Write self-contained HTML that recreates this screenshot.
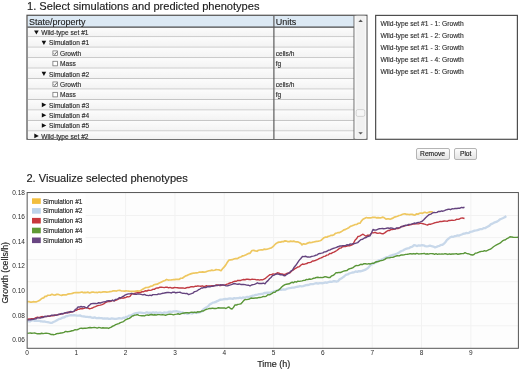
<!DOCTYPE html>
<html><head><meta charset="utf-8">
<style>
html,body{margin:0;padding:0;background:#fff;}
body{width:520px;height:370px;position:relative;overflow:hidden;filter:blur(0.3px);font-family:"Liberation Sans",sans-serif;color:#222;}
.abs{position:absolute;}
.h1{position:absolute;font-size:11.1px;line-height:11px;white-space:nowrap;color:#1c1c1c;-webkit-text-stroke:0.15px #1c1c1c;}
.t{position:absolute;font-size:6.6px;line-height:6.6px;white-space:nowrap;color:#2a2a2a;-webkit-text-stroke:0.14px #2a2a2a;}
.t2{position:absolute;font-size:6.72px;line-height:6.8px;white-space:nowrap;color:#2a2a2a;-webkit-text-stroke:0.12px #2a2a2a;}
.row{position:absolute;left:28px;width:326px;height:10.4px;background:linear-gradient(#fbfbfb,#f3f3f3);border-bottom:1px solid #c6c6c6;box-sizing:border-box;}
.btn{position:absolute;top:147.6px;height:12.0px;-webkit-text-stroke:0.15px #1e1e1e;box-sizing:border-box;border:1px solid #b4b4b4;border-radius:2px;background:linear-gradient(#fdfdfd,#e4e4e4);font-size:6.7px;line-height:10.2px;text-align:center;color:#1e1e1e;}
</style></head><body>
<div class="h1" style="left:27px;top:0.5px">1. Select simulations and predicted phenotypes</div>

<svg class="abs" style="left:0;top:0" width="520" height="150">
<defs><linearGradient id="rowg" x1="0" y1="0" x2="0" y2="1"><stop offset="0" stop-color="#fcfcfc"/><stop offset="1" stop-color="#f2f2f2"/></linearGradient></defs>
<rect x="27" y="15.27" width="339.9" height="123.93" fill="#fafafa" stroke="#4e4e4e" stroke-width="1.2"/>
<rect x="28" y="27.60" width="326" height="9.62" fill="url(#rowg)"/>
<line x1="28" x2="354" y1="36.72" y2="36.72" stroke="#c4c4c4" stroke-width="1"/>
<path d="M34.10,30.40 l4.6,0 l-2.3,4.2 Z" fill="#111"/>
<rect x="28" y="37.22" width="326" height="10.47" fill="url(#rowg)"/>
<line x1="28" x2="354" y1="47.19" y2="47.19" stroke="#c4c4c4" stroke-width="1"/>
<path d="M41.60,40.75 l4.6,0 l-2.3,4.2 Z" fill="#111"/>
<rect x="28" y="47.69" width="326" height="10.47" fill="url(#rowg)"/>
<line x1="28" x2="354" y1="57.66" y2="57.66" stroke="#c4c4c4" stroke-width="1"/>
<rect x="52.90" y="50.90" width="4.6" height="4.6" fill="#fff" stroke="#666" stroke-width="0.7"/><path d="M53.70,53.30 l1.1,1.2 l2.2,-2.9" fill="none" stroke="#333" stroke-width="0.7"/>
<rect x="28" y="58.16" width="326" height="10.47" fill="url(#rowg)"/>
<line x1="28" x2="354" y1="68.13" y2="68.13" stroke="#c4c4c4" stroke-width="1"/>
<rect x="52.90" y="61.25" width="4.6" height="4.6" fill="#fff" stroke="#666" stroke-width="0.7"/>
<rect x="28" y="68.63" width="326" height="10.47" fill="url(#rowg)"/>
<line x1="28" x2="354" y1="78.60" y2="78.60" stroke="#c4c4c4" stroke-width="1"/>
<path d="M41.60,71.80 l4.6,0 l-2.3,4.2 Z" fill="#111"/>
<rect x="28" y="79.10" width="326" height="10.47" fill="url(#rowg)"/>
<line x1="28" x2="354" y1="89.07" y2="89.07" stroke="#c4c4c4" stroke-width="1"/>
<rect x="52.90" y="81.95" width="4.6" height="4.6" fill="#fff" stroke="#666" stroke-width="0.7"/><path d="M53.70,84.35 l1.1,1.2 l2.2,-2.9" fill="none" stroke="#333" stroke-width="0.7"/>
<rect x="28" y="89.57" width="326" height="10.47" fill="url(#rowg)"/>
<line x1="28" x2="354" y1="99.54" y2="99.54" stroke="#c4c4c4" stroke-width="1"/>
<rect x="52.90" y="92.30" width="4.6" height="4.6" fill="#fff" stroke="#666" stroke-width="0.7"/>
<rect x="28" y="100.04" width="326" height="10.47" fill="url(#rowg)"/>
<line x1="28" x2="354" y1="110.01" y2="110.01" stroke="#c4c4c4" stroke-width="1"/>
<path d="M41.80,102.55 l4.5,2.3 l-4.5,2.3 Z" fill="#111"/>
<rect x="28" y="110.51" width="326" height="10.47" fill="url(#rowg)"/>
<line x1="28" x2="354" y1="120.48" y2="120.48" stroke="#c4c4c4" stroke-width="1"/>
<path d="M41.80,112.90 l4.5,2.3 l-4.5,2.3 Z" fill="#111"/>
<rect x="28" y="120.98" width="326" height="10.47" fill="url(#rowg)"/>
<line x1="28" x2="354" y1="130.95" y2="130.95" stroke="#c4c4c4" stroke-width="1"/>
<path d="M41.80,123.25 l4.5,2.3 l-4.5,2.3 Z" fill="#111"/>
<rect x="28" y="131.45" width="326" height="7.55" fill="url(#rowg)"/>
<path d="M34.30,133.60 l4.5,2.3 l-4.5,2.3 Z" fill="#111"/>

<rect x="28" y="16" width="326" height="11.1" fill="#dce9f4"/>
<line x1="27.5" x2="354" y1="27.2" y2="27.2" stroke="#4a4a4a" stroke-width="1.2"/>
<line x1="273.9" x2="273.9" y1="16" y2="139" stroke="#555" stroke-width="1.15"/>
<line x1="354.1" x2="354.1" y1="16" y2="139" stroke="#5e5e5e" stroke-width="1.1"/>
<rect x="354.6" y="15.8" width="11.8" height="122.9" fill="#f8f8f8"/><rect x="356.3" y="15.8" width="8.5" height="122.9" fill="#f1f1f1"/>
<path d="M358.4,21.9 L360.6,19.5 L362.8,21.9 Z" fill="#555"/>
<rect x="356.2" y="109.6" width="8.6" height="6.8" rx="1.6" fill="#f6f6f6" stroke="#c4c4c4" stroke-width="0.7"/>
<path d="M358.4,132.2 L362.8,132.2 L360.6,134.6 Z" fill="#555"/>
<rect x="375.65" y="15.4" width="141.75" height="123.9" fill="#fff" stroke="#4e4e4e" stroke-width="1.2"/>
</svg>
<div class="t" style="left:41.20px;top:30.11px">Wild-type set #1</div>
<div class="t" style="left:49.10px;top:40.46px">Simulation #1</div>
<div class="t" style="left:60.00px;top:50.81px">Growth</div>
<div class="t" style="left:275.7px;top:50.81px">cells/h</div>
<div class="t" style="left:60.00px;top:61.16px">Mass</div>
<div class="t" style="left:275.7px;top:61.16px">fg</div>
<div class="t" style="left:49.10px;top:71.51px">Simulation #2</div>
<div class="t" style="left:60.00px;top:81.86px">Growth</div>
<div class="t" style="left:275.7px;top:81.86px">cells/h</div>
<div class="t" style="left:60.00px;top:92.21px">Mass</div>
<div class="t" style="left:275.7px;top:92.21px">fg</div>
<div class="t" style="left:49.10px;top:102.56px">Simulation #3</div>
<div class="t" style="left:49.10px;top:112.91px">Simulation #4</div>
<div class="t" style="left:49.10px;top:123.26px">Simulation #5</div>
<div class="t" style="left:41.20px;top:133.61px">Wild-type set #2</div>

<div class="abs" style="left:29px;top:17.5px;font-size:9px;line-height:9px;color:#222;white-space:nowrap;-webkit-text-stroke:0.12px #222">State/property</div>
<div class="abs" style="left:275.7px;top:17.5px;font-size:9px;line-height:9px;color:#222;white-space:nowrap;-webkit-text-stroke:0.12px #222">Units</div>

<div class="t2" style="left:380.4px;top:20.64px">Wild-type set #1 - 1: Growth</div>
<div class="t2" style="left:380.4px;top:32.84px">Wild-type set #1 - 2: Growth</div>
<div class="t2" style="left:380.4px;top:45.04px">Wild-type set #1 - 3: Growth</div>
<div class="t2" style="left:380.4px;top:57.24px">Wild-type set #1 - 4: Growth</div>
<div class="t2" style="left:380.4px;top:69.44px">Wild-type set #1 - 5: Growth</div>

<div class="btn" style="left:415.5px;width:34px">Remove</div>
<div class="btn" style="left:454.2px;width:23px">Plot</div>

<div class="h1" style="left:26.4px;top:172.69px">2. Visualize selected phenotypes</div>

<svg class="abs" style="left:0;top:0" width="520" height="370" font-family="Liberation Sans" font-size="6.5" fill="#2a2a2a">
<rect x="27.15" y="192.55" width="491.25" height="155.75" fill="#fdfdfd"/>
<line x1="27.15" y1="215.54" x2="518.4" y2="215.54" stroke="#f2f2f2" stroke-width="1"/>
<line x1="27.15" y1="237.58" x2="518.4" y2="237.58" stroke="#f2f2f2" stroke-width="1"/>
<line x1="27.15" y1="259.62" x2="518.4" y2="259.62" stroke="#f2f2f2" stroke-width="1"/>
<line x1="27.15" y1="281.66" x2="518.4" y2="281.66" stroke="#f2f2f2" stroke-width="1"/>
<line x1="27.15" y1="303.70" x2="518.4" y2="303.70" stroke="#f2f2f2" stroke-width="1"/>
<line x1="27.15" y1="325.74" x2="518.4" y2="325.74" stroke="#f2f2f2" stroke-width="1"/>
<line x1="76.32" y1="192.55" x2="76.32" y2="348.3" stroke="#f2f2f2" stroke-width="1"/>
<line x1="125.64" y1="192.55" x2="125.64" y2="348.3" stroke="#f2f2f2" stroke-width="1"/>
<line x1="174.96" y1="192.55" x2="174.96" y2="348.3" stroke="#f2f2f2" stroke-width="1"/>
<line x1="224.28" y1="192.55" x2="224.28" y2="348.3" stroke="#f2f2f2" stroke-width="1"/>
<line x1="273.60" y1="192.55" x2="273.60" y2="348.3" stroke="#f2f2f2" stroke-width="1"/>
<line x1="322.92" y1="192.55" x2="322.92" y2="348.3" stroke="#f2f2f2" stroke-width="1"/>
<line x1="372.24" y1="192.55" x2="372.24" y2="348.3" stroke="#f2f2f2" stroke-width="1"/>
<line x1="421.56" y1="192.55" x2="421.56" y2="348.3" stroke="#f2f2f2" stroke-width="1"/>
<line x1="470.88" y1="192.55" x2="470.88" y2="348.3" stroke="#f2f2f2" stroke-width="1"/>

<rect x="28" y="193" width="57.5" height="56" fill="#fff"/>
<path d="M27.50,301.80 L28.92,301.50 L30.33,302.18 L31.75,302.14 L33.17,301.71 L34.58,301.96 L36.00,301.95 L37.67,301.30 L39.33,300.59 L41.00,299.13 L42.33,298.08 L43.67,297.80 L45.00,296.44 L46.40,296.34 L47.80,295.25 L49.20,295.25 L50.60,295.10 L52.00,294.26 L53.60,295.00 L55.20,295.06 L56.80,294.38 L58.40,294.47 L60.00,295.04 L61.50,295.40 L63.00,294.89 L64.50,294.74 L66.00,294.93 L67.60,294.18 L69.20,293.95 L70.80,293.74 L72.40,293.40 L74.00,292.76 L75.60,292.64 L77.20,292.51 L78.80,292.60 L80.40,292.33 L82.00,291.97 L83.43,292.70 L84.86,292.45 L86.29,292.53 L87.71,292.12 L89.14,292.84 L90.57,292.72 L92.00,292.06 L93.43,292.19 L94.86,292.49 L96.29,292.42 L97.71,292.56 L99.14,292.04 L100.57,292.35 L102.00,292.15 L103.60,291.74 L105.20,291.92 L106.80,292.10 L108.40,291.99 L110.00,291.60 L111.60,291.48 L113.20,290.78 L114.80,290.77 L116.40,291.07 L118.00,290.52 L119.60,290.39 L121.20,290.80 L122.80,291.02 L124.40,291.08 L126.00,290.89 L127.43,291.02 L128.86,291.15 L130.29,291.46 L131.71,291.30 L133.14,291.26 L134.57,291.42 L136.00,291.08 L137.50,290.84 L139.00,291.18 L140.67,290.60 L142.33,289.42 L144.00,288.40 L145.43,287.70 L146.86,287.50 L148.29,287.43 L149.71,286.74 L151.14,286.04 L152.57,285.82 L154.00,284.76 L155.60,284.41 L157.20,284.21 L158.80,283.27 L160.40,282.56 L162.00,281.79 L163.50,281.04 L165.00,280.41 L166.57,279.46 L168.14,280.06 L169.71,279.99 L171.29,279.95 L172.86,279.72 L174.43,279.68 L176.00,279.32 L177.50,279.46 L179.00,279.43 L180.67,278.27 L182.33,278.17 L184.00,277.06 L185.67,275.90 L187.33,275.34 L189.00,274.49 L190.67,273.87 L192.33,273.36 L194.00,273.03 L195.43,272.97 L196.86,272.82 L198.29,272.53 L199.71,272.00 L201.14,272.04 L202.57,271.85 L204.00,272.08 L205.67,271.82 L207.33,271.27 L209.00,270.77 L210.40,270.68 L211.80,270.08 L213.20,270.51 L214.60,270.26 L216.00,269.62 L217.67,269.73 L219.33,269.90 L221.00,270.73 L222.50,268.77 L224.00,267.15 L225.50,265.36 L227.00,262.86 L229.00,260.11 L230.60,259.79 L232.20,259.72 L233.80,259.00 L235.40,258.70 L237.00,258.69 L238.43,257.89 L239.86,257.20 L241.29,256.76 L242.71,255.79 L244.14,255.54 L245.57,255.00 L247.00,254.22 L248.50,253.40 L250.00,253.36 L252.00,250.51 L253.67,250.40 L255.33,250.93 L257.00,251.29 L258.40,250.27 L259.80,249.97 L261.20,249.78 L262.60,250.00 L264.00,249.19 L265.50,249.43 L267.00,249.16 L268.50,248.79 L270.00,248.25 L271.33,247.93 L272.67,246.77 L274.00,245.51 L275.75,243.75 L277.50,242.63 L279.00,242.16 L280.50,242.07 L282.00,241.59 L283.50,241.62 L285.00,240.85 L286.43,241.07 L287.86,241.67 L289.29,241.59 L290.71,241.08 L292.14,241.57 L293.57,241.08 L295.00,241.65 L296.50,241.84 L298.00,241.92 L299.33,242.61 L300.67,243.22 L302.00,244.84 L303.43,243.73 L304.86,244.07 L306.29,243.84 L307.71,243.13 L309.14,242.42 L310.57,242.69 L312.00,242.43 L313.60,241.98 L315.20,241.61 L316.80,241.29 L318.40,241.06 L320.00,240.74 L321.33,240.16 L322.67,238.94 L324.00,237.72 L325.42,237.14 L326.83,237.15 L328.25,236.32 L329.67,236.00 L331.08,235.34 L332.50,235.33 L333.93,234.79 L335.36,233.42 L336.79,233.02 L338.21,232.56 L339.64,232.58 L341.07,231.83 L342.50,230.86 L344.08,229.83 L345.67,229.32 L347.25,228.55 L348.83,227.72 L350.42,226.28 L352.00,225.84 L353.60,225.17 L355.20,224.49 L356.80,224.44 L358.40,223.26 L360.00,223.20 L361.50,220.88 L363.00,219.20 L365.00,218.17 L366.43,217.50 L367.86,217.95 L369.29,217.76 L370.71,217.94 L372.14,217.47 L373.57,217.40 L375.00,217.31 L376.50,217.83 L378.00,217.59 L379.50,217.91 L381.00,217.85 L382.50,217.17 L384.00,217.55 L386.00,219.14 L387.33,218.92 L388.67,218.78 L390.00,219.33 L391.50,218.66 L393.00,218.10 L394.50,217.06 L396.00,216.70 L397.50,216.25 L399.00,215.49 L400.50,215.26 L402.00,214.55 L403.50,214.02 L405.00,213.79 L406.43,214.46 L407.86,214.27 L409.29,214.70 L410.71,214.39 L412.14,214.34 L413.57,214.90 L415.00,215.04 L416.50,213.96 L418.00,214.20 L419.50,213.33 L421.00,213.00 L422.50,213.35 L424.00,212.44 L425.50,212.47 L427.00,212.99 L428.50,212.33 L430.00,211.90 L431.50,211.83 L433.00,212.00" fill="none" stroke="#eec760" stroke-width="1.7" stroke-linejoin="round"/>
<path d="M27.50,321.00 L28.92,321.33 L30.33,321.24 L31.75,320.35 L33.17,320.29 L34.58,320.89 L36.00,320.71 L37.43,320.87 L38.86,320.76 L40.29,321.24 L41.71,321.45 L43.14,321.64 L44.57,321.48 L46.00,321.94 L47.50,322.03 L49.00,322.45 L50.50,322.82 L52.00,322.90 L53.33,322.04 L54.67,321.45 L56.00,320.79 L57.33,319.92 L58.67,319.24 L60.00,318.97 L61.50,318.14 L63.00,317.49 L64.50,317.25 L66.00,316.22 L67.67,316.02 L69.33,315.50 L71.00,315.07 L72.50,315.27 L74.00,315.02 L75.50,315.28 L77.00,315.65 L78.50,315.57 L80.00,315.35 L81.50,316.20 L83.00,316.33 L84.50,316.49 L86.00,316.87 L87.43,316.92 L88.86,317.13 L90.29,316.93 L91.71,317.68 L93.14,317.84 L94.57,317.31 L96.00,318.03 L97.43,318.08 L98.86,317.94 L100.29,318.08 L101.71,318.13 L103.14,318.61 L104.57,318.32 L106.00,318.70 L107.43,318.30 L108.86,318.80 L110.29,318.85 L111.71,318.48 L113.14,318.60 L114.57,318.95 L116.00,318.80 L117.50,318.54 L119.00,318.25 L120.50,318.29 L122.00,318.58 L123.33,317.63 L124.67,317.83 L126.00,316.79 L127.43,316.80 L128.86,315.69 L130.29,315.70 L131.71,314.90 L133.14,314.15 L134.57,313.59 L136.00,313.14 L137.56,313.02 L139.11,312.72 L140.67,312.57 L142.22,312.79 L143.78,313.11 L145.33,312.78 L146.89,312.23 L148.44,312.84 L150.00,312.70 L151.56,312.93 L153.12,312.35 L154.69,312.91 L156.25,312.35 L157.81,312.95 L159.38,312.67 L160.94,312.69 L162.50,313.34 L164.06,312.43 L165.62,312.58 L167.19,312.66 L168.75,311.90 L170.31,311.65 L171.88,312.03 L173.44,311.40 L175.00,311.45 L176.56,311.14 L178.12,311.75 L179.69,311.89 L181.25,312.66 L182.81,312.44 L184.38,313.53 L185.94,313.01 L187.50,313.96 L189.06,313.16 L190.62,313.22 L192.19,313.56 L193.75,312.82 L195.31,312.68 L196.88,312.98 L198.44,312.55 L200.00,312.09 L201.43,311.80 L202.86,309.90 L204.29,308.65 L205.71,307.79 L207.14,306.89 L208.57,305.86 L210.00,304.15 L211.43,303.64 L212.86,302.65 L214.29,302.31 L215.71,301.88 L217.14,301.14 L218.57,300.58 L220.00,299.73 L221.43,299.72 L222.86,299.47 L224.29,299.15 L225.71,298.82 L227.14,299.11 L228.57,298.69 L230.00,298.39 L231.43,298.60 L232.86,298.87 L234.29,298.09 L235.71,298.40 L237.14,298.12 L238.57,298.12 L240.00,297.68 L241.43,298.27 L242.86,297.50 L244.29,297.67 L245.71,297.36 L247.14,296.85 L248.57,297.20 L250.00,296.68 L251.43,296.14 L252.86,295.65 L254.29,295.30 L255.71,294.78 L257.14,294.80 L258.57,294.22 L260.00,294.19 L261.43,293.96 L262.86,293.84 L264.29,292.97 L265.71,292.99 L267.14,292.63 L268.57,292.76 L270.00,292.61 L271.43,292.41 L272.86,291.97 L274.29,291.21 L275.71,291.00 L277.14,290.74 L278.57,289.91 L280.00,289.58 L281.67,289.75 L283.33,289.32 L285.00,289.70 L286.50,288.94 L288.00,288.49 L289.50,288.24 L291.00,287.96 L292.50,287.62 L294.00,287.57 L295.50,287.19 L297.00,286.73 L298.50,286.70 L300.00,285.99 L301.50,286.37 L303.00,286.17 L304.50,285.71 L306.00,285.19 L307.50,285.01 L309.00,284.82 L310.50,284.10 L312.00,284.18 L313.50,284.02 L315.00,283.46 L316.50,283.21 L318.00,283.67 L319.50,283.10 L321.00,283.07 L322.50,283.25 L324.00,282.80 L325.50,282.34 L327.00,282.79 L328.50,282.06 L330.00,281.57 L331.60,281.97 L333.20,281.24 L334.80,281.23 L336.40,281.51 L338.00,281.16 L339.60,279.36 L341.20,278.56 L342.80,277.32 L344.40,276.19 L346.00,274.74 L347.60,274.48 L349.20,273.42 L350.80,273.01 L352.40,272.49 L354.00,272.39 L355.60,271.42 L357.20,271.83 L358.80,271.12 L360.40,271.26 L362.00,270.90 L363.50,270.32 L365.00,269.93 L366.50,268.96 L368.00,268.06 L369.33,266.59 L370.67,265.09 L372.00,264.32 L373.60,263.33 L375.20,262.81 L376.80,261.77 L378.40,260.37 L380.00,260.14 L381.43,259.68 L382.86,259.06 L384.29,258.28 L385.71,257.59 L387.14,257.10 L388.57,256.84 L390.00,255.79 L391.43,255.45 L392.86,254.84 L394.29,254.69 L395.71,253.99 L397.14,253.53 L398.57,252.87 L400.00,251.82 L401.50,251.01 L403.00,250.49 L404.50,249.53 L406.00,248.93 L407.60,248.48 L409.20,248.02 L410.80,247.04 L412.40,246.57 L414.00,245.24 L415.60,245.47 L417.20,246.05 L418.80,245.28 L420.40,245.53 L422.00,245.21 L423.60,245.31 L425.20,246.12 L426.80,246.28 L428.40,246.05 L430.00,245.67 L431.67,246.23 L433.33,246.59 L435.00,247.40 L436.50,246.91 L438.00,246.19 L439.50,245.77 L441.00,244.90 L442.50,244.79 L444.00,243.65 L445.50,241.98 L447.00,239.89 L448.50,238.76 L450.00,237.44 L451.50,236.68 L453.00,236.91 L454.50,236.16 L456.00,236.03 L457.50,235.41 L458.93,235.59 L460.36,235.04 L461.79,234.49 L463.21,233.75 L464.64,233.66 L466.07,232.93 L467.50,233.09 L468.93,232.88 L470.36,231.78 L471.79,231.62 L473.21,231.13 L474.64,230.59 L476.07,230.40 L477.50,230.14 L479.00,229.58 L480.50,229.03 L482.00,229.12 L483.50,228.20 L485.00,228.22 L486.50,227.24 L488.00,226.44 L489.50,225.62 L491.00,224.15 L492.50,223.61 L494.00,222.66 L495.50,222.15 L497.00,221.68 L498.50,220.62 L500.00,219.31 L501.56,218.78 L503.12,218.07 L504.69,217.28 L506.25,216.00" fill="none" stroke="#c8d8ea" stroke-width="2.3" stroke-linejoin="round"/>
<path d="M27.50,319.50 L28.92,319.01 L30.33,319.04 L31.75,318.63 L33.17,318.59 L34.58,318.36 L36.00,317.61 L37.60,317.26 L39.20,317.70 L40.80,316.88 L42.40,316.56 L44.00,316.95 L45.40,316.37 L46.80,316.60 L48.20,316.18 L49.60,316.23 L51.00,315.69 L52.67,315.79 L54.33,315.66 L56.00,315.02 L57.67,314.88 L59.33,314.49 L61.00,313.61 L62.67,313.90 L64.33,313.42 L66.00,312.82 L67.67,312.24 L69.33,312.66 L71.00,311.98 L72.33,311.70 L73.67,311.34 L75.00,310.69 L76.33,310.38 L77.67,309.41 L79.00,309.27 L80.67,308.62 L82.33,308.73 L84.00,308.34 L85.40,307.74 L86.80,307.87 L88.20,308.05 L89.60,308.82 L91.00,308.44 L92.50,307.99 L94.00,307.07 L95.50,306.63 L97.00,305.90 L98.67,305.37 L100.33,305.08 L102.00,304.58 L103.67,303.86 L105.33,302.66 L107.00,301.89 L108.40,301.62 L109.80,301.54 L111.20,301.05 L112.60,300.40 L114.00,300.82 L115.67,300.25 L117.33,299.53 L119.00,298.56 L120.40,298.49 L121.80,297.84 L123.20,298.20 L124.60,297.77 L126.00,297.31 L127.33,296.61 L128.67,296.82 L130.00,296.44 L132.00,293.63 L133.43,293.98 L134.86,293.35 L136.29,292.83 L137.71,292.67 L139.14,292.81 L140.57,292.62 L142.00,291.59 L143.60,291.70 L145.20,290.79 L146.80,291.00 L148.40,290.25 L150.00,290.34 L151.43,290.08 L152.86,289.29 L154.29,289.38 L155.71,288.40 L157.14,287.83 L158.57,287.95 L160.00,287.08 L161.43,287.23 L162.86,287.42 L164.29,287.60 L165.71,287.19 L167.14,287.09 L168.57,287.83 L170.00,287.33 L171.50,287.96 L173.00,287.96 L174.50,287.54 L176.00,287.66 L177.50,287.77 L179.00,287.93 L180.50,287.94 L182.00,287.95 L183.50,288.06 L185.00,288.40 L186.43,287.76 L187.86,287.44 L189.29,287.45 L190.71,286.76 L192.14,286.57 L193.57,286.93 L195.00,286.27 L196.43,286.29 L197.86,285.81 L199.29,286.17 L200.71,286.32 L202.14,285.82 L203.57,286.35 L205.00,286.37 L206.43,285.75 L207.86,286.15 L209.29,285.90 L210.71,285.98 L212.14,285.58 L213.57,285.79 L215.00,285.71 L216.43,285.00 L217.86,284.96 L219.29,285.44 L220.71,285.63 L222.14,284.92 L223.57,285.03 L225.00,285.08 L226.43,284.30 L227.86,283.81 L229.29,283.22 L230.71,282.74 L232.14,282.41 L233.57,281.61 L235.00,281.14 L236.43,281.25 L237.86,280.32 L239.29,280.56 L240.71,280.46 L242.14,279.83 L243.57,279.50 L245.00,279.77 L246.43,279.26 L247.86,279.22 L249.29,279.44 L250.71,279.68 L252.14,279.14 L253.57,279.34 L255.00,279.35 L256.50,279.90 L258.00,279.64 L259.50,280.12 L261.00,279.60 L262.50,279.85 L264.00,279.14 L265.50,278.35 L267.00,276.96 L268.50,275.75 L270.00,274.66 L271.50,274.63 L273.00,273.92 L274.50,274.08 L276.00,273.70 L277.50,272.72 L279.00,273.10 L280.50,273.88 L282.00,274.03 L283.50,274.48 L285.00,274.36 L286.67,273.50 L288.33,272.98 L290.00,272.76 L291.67,271.04 L293.33,269.86 L295.00,268.68 L296.50,267.83 L298.00,266.97 L299.50,266.58 L301.00,265.04 L302.50,264.05 L303.93,264.43 L305.36,263.91 L306.79,263.55 L308.21,262.58 L309.64,262.58 L311.07,262.10 L312.50,261.00 L313.93,260.94 L315.36,260.48 L316.79,259.79 L318.21,259.12 L319.64,258.38 L321.07,257.89 L322.50,257.25 L323.93,256.40 L325.36,256.15 L326.79,255.17 L328.21,254.92 L329.64,253.52 L331.07,253.58 L332.50,252.67 L333.93,252.10 L335.36,251.29 L336.79,250.50 L338.21,249.43 L339.64,248.13 L341.07,248.01 L342.50,246.70 L344.00,246.48 L345.50,246.47 L347.00,246.00 L348.50,245.56 L350.00,245.70 L351.50,245.00 L353.00,244.36 L355.00,240.28 L356.50,238.83 L358.00,236.48 L359.67,236.09 L361.33,235.03 L363.00,234.23 L364.50,235.28 L366.00,236.29 L367.33,235.20 L368.67,235.26 L370.00,234.88 L372.00,232.78 L373.50,232.92 L375.00,232.31 L376.50,232.99 L378.00,233.33 L379.67,232.93 L381.33,233.46 L383.00,233.79 L384.67,232.86 L386.33,231.60 L388.00,230.48 L389.40,230.55 L390.80,229.65 L392.20,229.50 L393.60,229.36 L395.00,229.16 L396.67,228.36 L398.33,228.43 L400.00,227.57 L401.43,226.52 L402.86,226.54 L404.29,226.01 L405.71,225.65 L407.14,225.33 L408.57,225.24 L410.00,224.83 L411.43,224.45 L412.86,224.11 L414.29,224.06 L415.71,223.70 L417.14,223.91 L418.57,223.87 L420.00,223.39 L421.50,223.37 L423.00,223.71 L424.50,224.14 L426.00,224.59 L427.50,225.00 L429.17,224.23 L430.83,224.19 L432.50,223.61 L434.00,223.04 L435.50,222.59 L437.00,222.30 L438.50,222.08 L440.00,221.43 L441.50,221.57 L443.00,221.26 L444.50,220.97 L446.00,221.13 L447.50,221.18 L449.00,220.36 L450.50,220.43 L452.00,220.18 L453.50,220.34 L455.00,220.14 L456.50,219.29 L458.00,219.41 L459.50,218.96 L461.00,218.14 L462.50,217.97 L464.50,218.50" fill="none" stroke="#c03a42" stroke-width="1.4" stroke-linejoin="round"/>
<path d="M27.50,333.40 L28.92,333.16 L30.33,333.04 L31.75,333.31 L33.17,333.09 L34.58,333.01 L36.00,333.31 L37.43,333.80 L38.86,333.73 L40.29,333.72 L41.71,333.26 L43.14,333.58 L44.57,333.37 L46.00,333.31 L47.60,333.41 L49.20,333.66 L50.80,334.46 L52.40,334.54 L54.00,334.68 L55.33,334.40 L56.67,333.59 L58.00,333.43 L59.50,333.31 L61.00,333.01 L62.50,332.72 L64.00,332.34 L65.60,331.43 L67.20,331.70 L68.80,331.55 L70.40,331.21 L72.00,330.71 L73.60,330.46 L75.20,329.59 L76.80,329.83 L78.40,329.25 L80.00,328.44 L81.43,328.11 L82.86,328.54 L84.29,328.12 L85.71,328.29 L87.14,328.14 L88.57,327.72 L90.00,327.52 L91.43,327.75 L92.86,327.65 L94.29,327.47 L95.71,327.65 L97.14,328.17 L98.57,327.53 L100.00,327.59 L101.43,328.11 L102.86,327.80 L104.29,328.03 L105.71,327.97 L107.14,327.86 L108.57,328.45 L110.00,327.73 L111.33,327.12 L112.67,326.13 L114.00,325.72 L115.60,324.68 L117.20,324.03 L118.80,323.66 L120.40,322.56 L122.00,322.05 L123.50,321.61 L125.00,320.14 L126.50,319.36 L128.00,318.76 L129.33,318.37 L130.67,317.37 L132.00,316.16 L133.33,315.78 L134.67,315.18 L136.00,314.96 L137.43,314.67 L138.86,315.35 L140.29,315.61 L141.71,315.75 L143.14,315.64 L144.57,315.93 L146.00,315.17 L147.33,315.04 L148.67,315.29 L150.00,314.75 L151.56,314.48 L153.12,315.02 L154.69,314.80 L156.25,315.04 L157.81,314.63 L159.38,314.60 L160.94,314.89 L162.50,314.67 L164.06,314.83 L165.62,315.29 L167.19,314.66 L168.75,314.31 L170.31,314.28 L171.88,314.33 L173.44,314.82 L175.00,314.38 L176.56,314.12 L178.12,313.76 L179.69,314.37 L181.25,313.68 L182.81,313.30 L184.38,312.98 L185.94,312.79 L187.50,312.70 L188.94,313.03 L190.38,312.43 L191.81,312.21 L193.25,312.49 L194.69,312.15 L196.12,312.70 L197.56,311.79 L199.00,312.03 L200.50,311.75 L202.00,310.92 L203.50,310.94 L205.00,309.98 L206.50,309.27 L208.00,308.92 L209.50,308.38 L211.00,308.53 L212.50,308.17 L214.00,308.55 L215.50,308.50 L217.00,308.20 L218.50,307.78 L220.00,307.98 L221.50,307.97 L223.00,307.94 L224.50,307.96 L226.00,308.53 L227.50,307.48 L229.00,307.00 L230.50,308.54 L232.00,308.96 L233.50,307.39 L235.00,304.91 L236.50,304.99 L238.00,304.39 L239.50,304.14 L241.00,303.72 L242.33,302.23 L243.67,300.60 L245.00,299.44 L246.50,299.66 L248.00,299.31 L249.50,298.96 L251.00,298.05 L252.50,298.21 L254.00,298.20 L255.50,297.93 L257.00,297.95 L258.50,297.56 L260.00,297.54 L261.67,297.18 L263.33,296.42 L265.00,296.63 L266.43,296.05 L267.86,294.65 L269.29,294.85 L270.71,294.24 L272.14,293.37 L273.57,292.20 L275.00,292.36 L276.67,290.58 L278.33,290.26 L280.00,288.90 L281.67,286.94 L283.33,285.62 L285.00,284.62 L286.43,284.21 L287.86,284.01 L289.29,283.81 L290.71,282.82 L292.14,282.27 L293.57,282.74 L295.00,281.56 L296.43,282.05 L297.86,281.08 L299.29,281.42 L300.71,281.11 L302.14,280.91 L303.57,280.33 L305.00,280.34 L306.43,279.45 L307.86,279.58 L309.29,278.99 L310.71,279.21 L312.14,278.82 L313.57,278.26 L315.00,278.02 L316.43,277.43 L317.86,277.30 L319.29,277.66 L320.71,277.42 L322.14,277.61 L323.57,277.24 L325.00,276.67 L326.67,277.04 L328.33,277.57 L330.00,277.52 L331.50,275.93 L333.00,275.55 L334.50,274.42 L336.00,272.63 L337.50,272.79 L339.00,272.39 L340.50,272.51 L342.00,271.83 L343.60,271.16 L345.20,270.79 L346.80,270.62 L348.40,269.24 L350.00,268.65 L351.50,268.26 L353.00,267.65 L354.50,266.46 L356.00,265.54 L357.60,265.60 L359.20,265.21 L360.80,264.25 L362.40,264.66 L364.00,263.73 L365.60,263.74 L367.20,264.14 L368.80,263.69 L370.40,263.95 L372.00,263.30 L373.60,263.42 L375.20,262.27 L376.80,261.72 L378.40,261.51 L380.00,260.85 L381.60,260.44 L383.20,260.16 L384.80,259.39 L386.40,258.16 L388.00,257.83 L389.60,257.72 L391.20,257.35 L392.80,257.23 L394.40,256.71 L396.00,256.02 L397.60,255.77 L399.20,255.91 L400.80,255.07 L402.40,255.04 L404.00,254.84 L405.60,254.35 L407.20,254.24 L408.80,254.02 L410.40,253.59 L412.00,253.97 L413.60,253.57 L415.20,253.97 L416.80,253.43 L418.40,253.93 L420.00,253.86 L421.43,253.76 L422.86,253.66 L424.29,253.45 L425.71,254.07 L427.14,253.76 L428.57,254.09 L430.00,253.67 L431.50,253.62 L433.00,253.68 L434.50,254.28 L436.00,253.71 L437.50,254.36 L439.00,253.88 L440.50,254.07 L442.00,253.87 L443.50,254.11 L445.00,253.63 L446.43,253.95 L447.86,254.46 L449.29,253.82 L450.71,254.28 L452.14,254.02 L453.57,254.03 L455.00,253.82 L456.43,253.64 L457.86,254.30 L459.29,254.01 L460.71,253.81 L462.14,253.63 L463.57,253.59 L465.00,252.69 L466.50,253.43 L468.00,253.70 L469.50,254.12 L471.00,254.79 L472.50,254.98 L474.00,254.52 L475.50,253.11 L477.00,252.94 L478.50,252.31 L480.00,251.72 L481.50,251.41 L483.00,251.40 L484.50,250.72 L486.00,251.09 L487.50,250.42 L489.00,249.69 L490.50,249.06 L492.00,247.98 L493.50,246.73 L495.00,245.76 L496.50,244.84 L498.00,244.11 L499.50,243.45 L501.00,242.36 L502.50,240.91 L504.00,240.16 L505.50,239.79 L507.00,238.56 L508.50,237.92 L510.00,236.81 L511.60,236.97 L513.20,237.29 L514.80,237.42 L516.40,237.35 L518.00,237.25" fill="none" stroke="#5a9638" stroke-width="1.4" stroke-linejoin="round"/>
<path d="M27.50,320.00 L28.92,319.86 L30.33,319.72 L31.75,319.52 L33.17,319.40 L34.58,318.97 L36.00,318.88 L37.43,317.79 L38.86,317.90 L40.29,318.04 L41.71,317.49 L43.14,317.43 L44.57,316.44 L46.00,316.47 L47.43,316.06 L48.86,316.11 L50.29,315.92 L51.71,315.20 L53.14,315.17 L54.57,315.02 L56.00,315.37 L57.43,314.95 L58.86,314.12 L60.29,314.41 L61.71,313.53 L63.14,313.68 L64.57,312.95 L66.00,312.55 L67.60,312.93 L69.20,311.94 L70.80,311.54 L72.40,311.83 L74.00,311.34 L75.33,309.48 L76.67,308.75 L78.00,307.04 L79.50,307.04 L81.00,306.48 L82.50,307.02 L84.00,306.67 L85.50,307.42 L87.00,307.85 L88.33,306.15 L89.67,305.04 L91.00,303.70 L92.50,303.56 L94.00,303.36 L95.50,303.45 L97.00,303.59 L98.67,302.72 L100.33,302.99 L102.00,302.35 L103.67,301.83 L105.33,301.79 L107.00,300.98 L108.40,300.73 L109.80,300.78 L111.20,300.88 L112.60,300.20 L114.00,300.93 L115.33,299.40 L116.67,299.39 L118.00,298.81 L119.50,297.57 L121.00,297.76 L122.33,296.71 L123.67,296.24 L125.00,295.06 L126.67,294.43 L128.33,293.88 L130.00,293.91 L131.60,293.33 L133.20,293.93 L134.80,294.19 L136.40,294.30 L138.00,293.86 L139.60,294.07 L141.20,294.42 L142.80,294.85 L144.40,294.45 L146.00,295.22 L147.33,295.43 L148.67,295.66 L150.00,295.08 L151.43,295.65 L152.86,294.63 L154.29,294.61 L155.71,294.60 L157.14,294.63 L158.57,293.86 L160.00,294.13 L161.43,293.61 L162.86,293.22 L164.29,293.05 L165.71,292.75 L167.14,292.48 L168.57,292.36 L170.00,292.67 L171.43,292.95 L172.86,292.20 L174.29,292.09 L175.71,292.94 L177.14,292.53 L178.57,292.42 L180.00,292.26 L181.43,292.87 L182.86,293.37 L184.29,293.32 L185.71,293.57 L187.14,293.53 L188.57,294.59 L190.00,294.08 L191.43,293.67 L192.86,293.16 L194.29,291.70 L195.71,291.42 L197.14,290.80 L198.57,289.69 L200.00,289.01 L201.43,288.04 L202.86,287.98 L204.29,287.36 L205.71,287.63 L207.14,286.78 L208.57,286.56 L210.00,286.70 L211.43,286.39 L212.86,286.32 L214.29,285.67 L215.71,285.53 L217.14,285.56 L218.57,285.16 L220.00,284.81 L221.50,285.01 L223.00,284.88 L224.50,285.19 L226.00,285.84 L227.50,285.91 L229.00,285.26 L230.50,284.80 L232.00,284.30 L233.50,283.73 L235.00,283.55 L236.43,284.11 L237.86,284.29 L239.29,283.95 L240.71,284.44 L242.14,284.53 L243.57,284.57 L245.00,284.65 L246.67,285.15 L248.33,285.21 L250.00,285.93 L251.50,285.00 L253.00,284.64 L254.50,284.34 L256.00,283.72 L257.50,282.81 L259.00,283.55 L260.50,283.43 L262.00,283.52 L263.50,283.16 L265.00,283.79 L266.50,281.88 L268.00,280.60 L269.50,278.77 L271.00,277.44 L272.50,275.63 L274.17,275.18 L275.83,274.20 L277.50,273.88 L279.00,274.31 L280.50,274.75 L282.00,274.67 L283.50,275.46 L285.00,275.83 L286.50,274.57 L288.00,273.73 L289.50,272.61 L291.00,271.12 L292.50,270.03 L294.17,267.20 L295.83,265.30 L297.50,262.89 L299.17,260.40 L300.83,258.51 L302.50,256.45 L304.00,256.61 L305.50,256.25 L307.00,256.95 L308.50,256.92 L310.00,257.15 L311.43,256.46 L312.86,256.18 L314.29,255.85 L315.71,255.27 L317.14,254.88 L318.57,253.79 L320.00,253.44 L321.43,253.16 L322.86,252.81 L324.29,251.89 L325.71,251.77 L327.14,251.19 L328.57,250.12 L330.00,249.97 L331.43,249.22 L332.86,248.53 L334.29,248.06 L335.71,247.69 L337.14,247.03 L338.57,246.51 L340.00,245.83 L341.43,245.97 L342.86,245.64 L344.29,245.60 L345.71,245.33 L347.14,244.76 L348.57,245.11 L350.00,244.05 L351.50,244.16 L353.00,243.80 L354.50,243.67 L356.00,243.15 L357.67,242.63 L359.33,241.05 L361.00,239.58 L362.67,239.27 L364.33,237.97 L366.00,237.54 L367.33,236.69 L368.67,236.24 L370.00,235.91 L371.50,232.79 L373.00,229.43 L374.50,230.03 L376.00,230.13 L377.67,229.38 L379.33,228.68 L381.00,228.59 L382.40,228.46 L383.80,228.71 L385.20,228.62 L386.60,228.20 L388.00,227.87 L389.40,228.50 L390.80,227.85 L392.20,228.10 L393.60,228.66 L395.00,228.85 L396.67,227.93 L398.33,227.87 L400.00,227.60 L401.43,226.67 L402.86,226.26 L404.29,225.61 L405.71,225.21 L407.14,225.35 L408.57,224.36 L410.00,224.42 L411.43,224.12 L412.86,223.59 L414.29,223.03 L415.71,223.43 L417.14,222.75 L418.57,222.42 L420.00,222.09 L421.88,221.44 L423.75,219.74 L425.62,217.68 L427.50,215.98 L429.17,214.66 L430.83,214.11 L432.50,212.95 L434.00,212.51 L435.50,212.65 L437.00,212.39 L438.50,211.36 L440.00,211.53 L441.50,210.95 L443.00,211.19 L444.50,210.70 L446.00,209.87 L447.50,209.54 L449.00,209.19 L450.50,209.69 L452.00,208.81 L453.50,208.85 L455.00,208.48 L456.67,208.46 L458.33,208.26 L460.00,208.22 L461.50,207.41 L463.00,207.73 L464.50,207.25" fill="none" stroke="#64437e" stroke-width="1.4" stroke-linejoin="round"/>

<rect x="27.15" y="192.55" width="491.25" height="155.75" fill="none" stroke="#555" stroke-width="1"/>
<rect x="32" y="198.30" width="8.8" height="5.6" fill="#f2be3e"/>
<text x="43" y="203.60" font-size="6.5" fill="#1e1e1e" stroke="#1e1e1e" stroke-width="0.14">Simulation #1</text>
<rect x="32" y="208.10" width="8.8" height="5.6" fill="#bcd3ea"/>
<text x="43" y="213.40" font-size="6.5" fill="#1e1e1e" stroke="#1e1e1e" stroke-width="0.14">Simulation #2</text>
<rect x="32" y="217.90" width="8.8" height="5.6" fill="#c8383c"/>
<text x="43" y="223.20" font-size="6.5" fill="#1e1e1e" stroke="#1e1e1e" stroke-width="0.14">Simulation #3</text>
<rect x="32" y="227.70" width="8.8" height="5.6" fill="#5f9a35"/>
<text x="43" y="233.00" font-size="6.5" fill="#1e1e1e" stroke="#1e1e1e" stroke-width="0.14">Simulation #4</text>
<rect x="32" y="237.50" width="8.8" height="5.6" fill="#6a4783"/>
<text x="43" y="242.80" font-size="6.5" fill="#1e1e1e" stroke="#1e1e1e" stroke-width="0.14">Simulation #5</text>

<text x="24.9" y="194.50" text-anchor="end">0.18</text>
<text x="24.9" y="219.13" text-anchor="end">0.16</text>
<text x="24.9" y="243.76" text-anchor="end">0.14</text>
<text x="24.9" y="268.39" text-anchor="end">0.12</text>
<text x="24.9" y="293.02" text-anchor="end">0.10</text>
<text x="24.9" y="317.65" text-anchor="end">0.08</text>
<text x="24.9" y="342.28" text-anchor="end">0.06</text>

<text x="27.00" y="355.3" text-anchor="middle">0</text>
<text x="76.32" y="355.3" text-anchor="middle">1</text>
<text x="125.64" y="355.3" text-anchor="middle">2</text>
<text x="174.96" y="355.3" text-anchor="middle">3</text>
<text x="224.28" y="355.3" text-anchor="middle">4</text>
<text x="273.60" y="355.3" text-anchor="middle">5</text>
<text x="322.92" y="355.3" text-anchor="middle">6</text>
<text x="372.24" y="355.3" text-anchor="middle">7</text>
<text x="421.56" y="355.3" text-anchor="middle">8</text>
<text x="470.88" y="355.3" text-anchor="middle">9</text>

<text x="273.8" y="366.5" font-size="9" text-anchor="middle" fill="#222" stroke="#222" stroke-width="0.15">Time (h)</text>
<text transform="translate(7.6,272.75) rotate(-90)" font-size="8.8" text-anchor="middle" fill="#222" stroke="#222" stroke-width="0.15">Growth (cells/h)</text>
</svg>
</body></html>
